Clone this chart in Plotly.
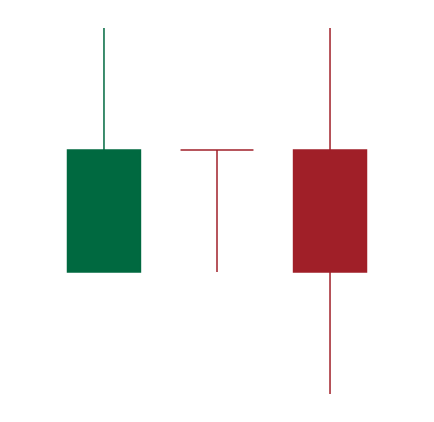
import plotly.graph_objects as go

x_vals = [0, 1, 2]
open_vals = [2, 3, 3]
high_vals = [4, 3, 4]
low_vals = [2, 2, 1]
close_vals = [3, 3, 2]
colors = ["#006940", "#A01F28", "#A01F28"]

fig = go.Figure()
for i in range(len(x_vals)):
    c = colors[i]
    fig.add_trace(go.Candlestick(
        x=[x_vals[i]], open=[open_vals[i]], high=[high_vals[i]],
        low=[low_vals[i]], close=[close_vals[i]],
        increasing=dict(line=dict(color=c, width=1.5), fillcolor=c),
        decreasing=dict(line=dict(color=c, width=1.5), fillcolor=c),
        whiskerwidth=0,
        hoverinfo="skip",
    ))
fig.update_layout(
    width=434, height=422,
    margin=dict(l=0, r=0, t=0, b=0),
    paper_bgcolor="white", plot_bgcolor="white",
    showlegend=False,
    boxgap=0.078,
    xaxis=dict(visible=False, range=[-0.92, 2.92], rangeslider=dict(visible=False)),
    yaxis=dict(visible=False, range=[0.7705, 4.2295]),
)
fig.write_html("out.html")
